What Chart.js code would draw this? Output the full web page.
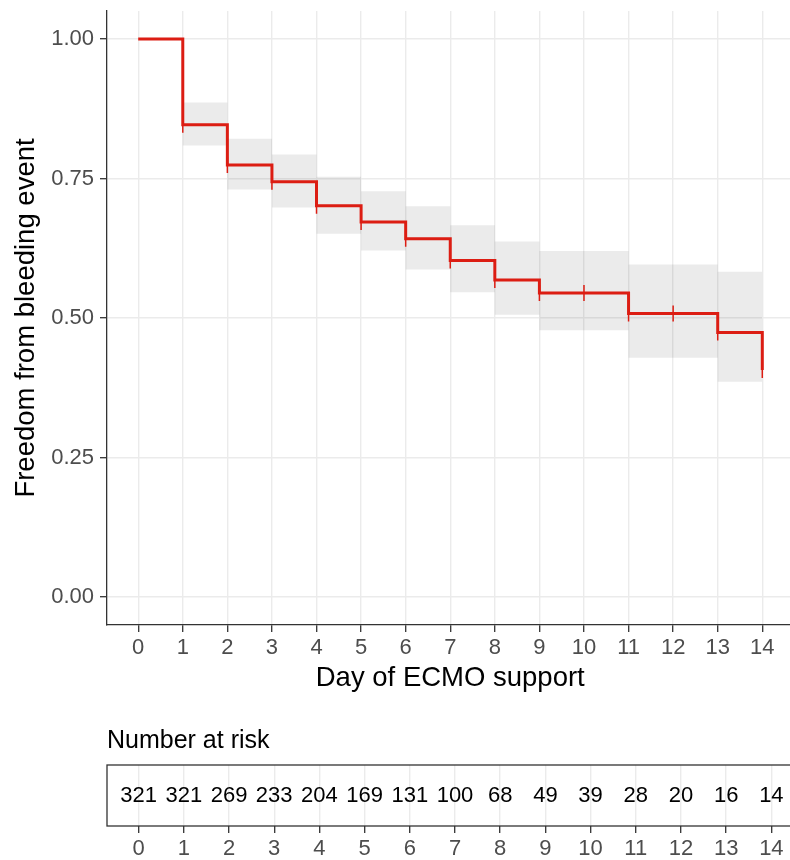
<!DOCTYPE html>
<html>
<head>
<meta charset="utf-8">
<script src="https://cdn.jsdelivr.net/npm/chart.js@4.4.1/dist/chart.umd.min.js"></script>
<style>
    html, body { margin: 0; padding: 0; background: #fff; overflow: hidden; }
    #wrap { width: 803px; }
    canvas { display: block; }
</style>
</head>
<body>
<div id="wrap">
    <canvas id="kmChart" width="803" height="700"></canvas>
    <canvas id="riskChart" width="803" height="160"></canvas>
</div>
<script>
// Kaplan-Meier values
const days = [0, 1, 2, 3, 4, 5, 6, 7, 8, 9, 10, 11, 12, 13, 14];
const survival = [1, 0.846, 0.774, 0.744, 0.701, 0.672, 0.642, 0.603, 0.568, 0.545, 0.545, 0.508, 0.508, 0.474, 0.407];
const upperCI = [1, 0.886, 0.821, 0.793, 0.753, 0.727, 0.700, 0.666, 0.637, 0.620, 0.620, 0.596, 0.596, 0.583, 0.583];
const lowerCI = [1, 0.809, 0.730, 0.698, 0.651, 0.621, 0.587, 0.546, 0.506, 0.478, 0.478, 0.429, 0.429, 0.386, 0.386];
const censorDays = [1, 2, 3, 4, 5, 6, 7, 8, 9, 10, 11, 12, 13, 14];
const atRisk = [321, 321, 269, 233, 204, 169, 131, 100, 68, 49, 39, 28, 20, 16, 14];
const yTicks = [0, 0.25, 0.5, 0.75, 1];

const FONT = '"Liberation Sans", Arial, Helvetica, sans-serif';
const RED = '#dc1d13';
const GRID = '#ebebeb';
const AXIS = '#333333';
const TICKTXT = '#4d4d4d';

Chart.defaults.font.family = FONT;
Chart.defaults.animation = false;

const pts = (ys) => days.map((d, i) => ({ x: d, y: ys[i] }));

const kmCtx = document.getElementById('kmChart').getContext('2d');

let kmChart = new Chart(kmCtx, {
    type: 'line',
    data: {
        datasets: [{
            // censoring marks
            data: censorDays.map(d => ({ x: d, y: survival[days.indexOf(d)] })),
            showLine: false,
            pointStyle: 'line',
            pointRotation: 90,
            pointRadius: 8,
            pointBorderWidth: 1.5,
            pointBorderColor: RED,
            order: 0
        }, {
            data: pts(survival),
            stepped: true,
            borderColor: RED,
            borderWidth: 3,
            pointRadius: 0,
            fill: false,
            order: 1
        }, {
            data: pts(upperCI),
            stepped: true,
            borderWidth: 0,
            pointRadius: 0,
            backgroundColor: 'rgba(0, 0, 0, 0.08)',
            fill: '+1',
            order: 2
        }, {
            data: pts(lowerCI),
            stepped: true,
            borderWidth: 0,
            pointRadius: 0,
            fill: false,
            order: 3
        }]
    },
    options: {
        responsive: false,
        events: [],
        layout: { padding: { top: 11, left: 0, right: 0, bottom: 0 } },
        plugins: {
            legend: { display: false },
            tooltip: { enabled: false }
        },
        scales: {
            x: {
                type: 'linear',
                min: -0.7,
                max: 14.7,
                afterBuildTicks: s => { s.ticks = days.map(v => ({ value: v })); },
                afterFit: s => { s.height = 75; s.paddingLeft = 0; s.paddingRight = 0; },
                grid: { color: GRID, lineWidth: 1.4, tickColor: AXIS, tickLength: 7, tickWidth: 1.3 },
                border: { display: true, color: AXIS, width: 1.3 },
                ticks: { color: TICKTXT, font: { size: 22 }, padding: 3, maxRotation: 0 },
                title: {
                    display: true,
                    text: 'Day of ECMO support',
                    color: '#000',
                    font: { size: 27.5 },
                    padding: { top: 0, bottom: 5 }
                }
            },
            y: {
                min: -0.05,
                max: 1.05,
                afterBuildTicks: s => { s.ticks = yTicks.map(v => ({ value: v })); },
                afterFit: s => { s.width = 107; s.paddingTop = 0; s.paddingBottom = 0; },
                grid: { color: GRID, lineWidth: 1.4, tickColor: AXIS, tickLength: 7, tickWidth: 1.3 },
                border: { display: true, color: AXIS, width: 1.3 },
                ticks: {
                    color: TICKTXT,
                    font: { size: 22 },
                    padding: 6,
                    callback: v => v.toFixed(2)
                },
                title: {
                    display: true,
                    text: 'Freedom from bleeding event',
                    color: '#000',
                    font: { size: 27.5 },
                    padding: { top: 10, bottom: 0 }
                }
            }
        }
    }
});

// number-at-risk table
const riskTable = {
    id: 'riskTable',
    afterDraw(chart) {
        const { ctx, chartArea } = chart;
        const xs = chart.scales.x;
        ctx.save();
        ctx.strokeStyle = AXIS;
        ctx.lineWidth = 1.3;
        ctx.strokeRect(chartArea.left, chartArea.top, chartArea.right - chartArea.left, chartArea.bottom - chartArea.top);

        ctx.fillStyle = '#000';
        ctx.font = '22px ' + FONT;
        ctx.textAlign = 'center';
        ctx.textBaseline = 'middle';
        const yMid = (chartArea.top + chartArea.bottom) / 2;
        days.forEach((d, i) => {
            ctx.fillText(String(atRisk[i]), xs.getPixelForValue(d), yMid);
        });

        ctx.font = '25px ' + FONT;
        ctx.textAlign = 'left';
        ctx.fillText('Number at risk', chartArea.left, chartArea.top - 24);
        ctx.restore();
    }
};

const riskCtx = document.getElementById('riskChart').getContext('2d');

let riskChart = new Chart(riskCtx, {
    type: 'line',
    data: { datasets: [{ data: [], pointRadius: 0 }] },
    options: {
        responsive: false,
        events: [],
        layout: { padding: { top: 65, left: 107, right: 0, bottom: 0 } },
        plugins: {
            legend: { display: false },
            tooltip: { enabled: false }
        },
        scales: {
            x: {
                type: 'linear',
                min: -0.7,
                max: 14.7,
                afterBuildTicks: s => { s.ticks = days.map(v => ({ value: v })); },
                afterFit: s => { s.height = 34; s.paddingLeft = 0; s.paddingRight = 0; },
                grid: { color: GRID, lineWidth: 1.4, tickColor: AXIS, tickLength: 7, tickWidth: 1.3 },
                border: { display: false },
                ticks: { color: TICKTXT, font: { size: 22 }, padding: 3, maxRotation: 0 }
            },
            y: { display: false, min: 0, max: 1 }
        }
    },
    plugins: [riskTable]
});
</script>
</body>
</html>
